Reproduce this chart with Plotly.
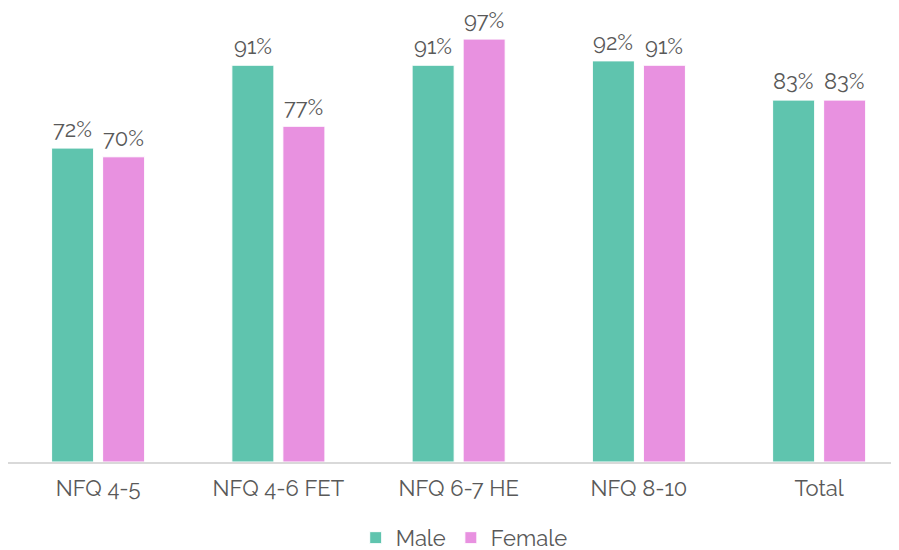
import plotly.graph_objects as go

categories = ['NFQ 4-5', 'NFQ 4-6 FET', 'NFQ 6-7 HE', 'NFQ 8-10', 'Total']
male = [72, 91, 91, 92, 83]
female = [70, 77, 97, 91, 83]

font_family = 'Raleway, Lato, sans-serif'
text_color = '#595959'
label_size = 22

fig = go.Figure()

# Male bars
fig.add_trace(go.Bar(x=categories, y=male, name='Male',
                     marker=dict(color='#5FC4AE', line=dict(color='white', width=1))))

# Female bars
fig.add_trace(go.Bar(x=categories, y=female, name='Female',
                     marker=dict(color='#E891E0', line=dict(color='white', width=1))))

# Value labels above each bar (shifted to the left/right bar of each group)
annotations = []
for series, shift in [(male, -25.5), (female, 25.5)]:
    for cat, val in zip(categories, series):
        annotations.append(dict(x=cat, y=val, xref='x', yref='y', text=f'{val}%',
                                showarrow=False, xshift=shift, yanchor='bottom', yshift=5,
                                borderpad=0,
                                font=dict(size=label_size, color=text_color, family=font_family)))

# page body has an 8px margin, so the figure is sized to fit the 899x550 window
fig.update_layout(
    width=891, height=542,
    margin=dict(l=0, r=0, t=18, b=88, autoexpand=False),
    barmode='group',
    bargap=0.434,
    bargroupgap=0.176,
    plot_bgcolor='white',
    paper_bgcolor='white',
    font=dict(family=font_family, size=label_size, color=text_color),
    annotations=annotations,
    showlegend=True,
    legend=dict(orientation='h', x=0.512, xanchor='center', y=-0.174, yanchor='middle',
                font=dict(size=label_size, color=text_color), itemwidth=30),
    xaxis=dict(range=[-0.5, 4.443], showline=True, linecolor='#D9D9D9', linewidth=2,
               ticks='outside', tickcolor='rgba(0,0,0,0)', ticklen=6, automargin=False,
               tickfont=dict(size=label_size, color=text_color)),
    yaxis=dict(range=[0, 100], visible=False, showgrid=False, automargin=False),
)

fig.write_html("out.html")
